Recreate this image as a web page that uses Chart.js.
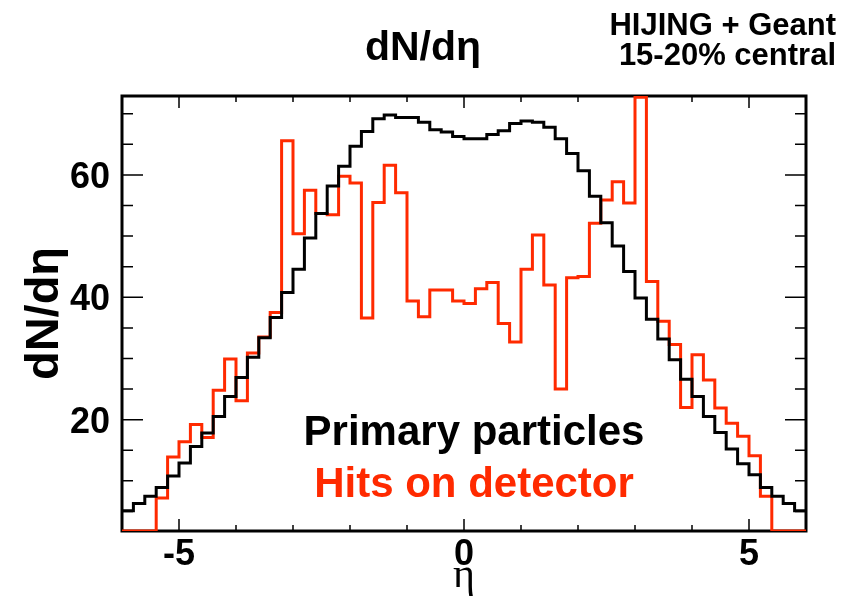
<!DOCTYPE html>
<html>
<head>
<meta charset="utf-8">
<script src="https://cdn.jsdelivr.net/npm/chart.js@4/dist/chart.umd.min.js"></script>
<style>
  html, body { margin: 0; padding: 0; background: #fff; }
  #wrap { width: 854px; height: 597px; position: relative; }
</style>
</head>
<body>
<div id="wrap"><canvas id="dndeta"></canvas></div>
<script>
// eta binning: 60 bins of 0.2 from -6 to 6
const etaMin = -6;
const binWidth = 0.2;

// dN/deta of primary particles (black)
const primary = [
  5.1, 6.3, 7.5, 8.9, 10.8, 12.9, 15.6, 17.8, 20.5, 23.8,
  26.9, 30.2, 33.4, 36.7, 40.8, 44.6, 49.7, 53.7, 58.2, 61.4,
  64.7, 67.1, 69.2, 69.8, 69.4, 69.4, 68.6, 67.4, 67.0, 66.3,
  65.9, 65.9, 66.6, 67.2, 68.4, 68.8, 68.6, 67.8, 65.9, 63.5,
  60.7, 56.5, 52.2, 48.4, 44.2, 39.9, 36.4, 33.2, 29.8, 26.6,
  23.8, 20.5, 17.9, 15.2, 12.8, 11.0, 8.9, 7.5, 6.3, 5.1
];

// hits on detector (red)
const hits = [
  0, 0, 0, 7.2, 13.9, 16.4, 19.2, 17.1, 24.8, 29.9,
  23.1, 30.9, 33.5, 37.5, 65.6, 50.4, 57.5, 53.7, 53.5, 59.8,
  58.7, 36.6, 55.5, 61.6, 57.1, 39.4, 36.8, 41.2, 41.2, 39.4,
  39.0, 41.4, 42.4, 35.7, 32.7, 44.6, 50.2, 42.0, 25.0, 43.2,
  43.4, 52.1, 55.9, 58.9, 55.4, 72.7, 42.6, 36.1, 32.3, 22.0,
  30.6, 26.5, 21.9, 19.4, 17.3, 14.1, 7.5, 0, 0, 0
];

const xTickLabels = [-5, 0, 5];
const yTickLabels = [20, 40, 60];
const yMin = 1.8, yMax = 72.9;

const RED = '#ff2a00';
const SANS = '"Liberation Sans", Arial, Helvetica, sans-serif';

// histogram outline: one point at each bin's low edge, plus the last edge
function histPoints(vals) {
  const pts = vals.map((v, i) => ({ x: etaMin + i * binWidth, y: Math.max(v, yMin) }));
  pts.push({ x: etaMin + vals.length * binWidth, y: Math.max(vals[vals.length - 1], yMin) });
  return pts;
}

// ROOT style frame with inward ticks, drawn under the histograms
const rootFrame = {
  id: 'rootFrame',
  beforeDatasetsDraw(chart) {
    const { ctx, chartArea: a, scales: { x, y } } = chart;
    ctx.save();
    ctx.strokeStyle = '#000';
    ctx.lineWidth = 1.5;
    ctx.beginPath();
    for (let v = -6; v <= 6; v++) {
      const px = x.getPixelForValue(v);
      const len = v % 5 === 0 ? 12 : 6;
      ctx.moveTo(px, a.bottom); ctx.lineTo(px, a.bottom - len);
      ctx.moveTo(px, a.top); ctx.lineTo(px, a.top + len);
    }
    for (let v = 5; v <= 70; v += 5) {
      const py = y.getPixelForValue(v);
      const len = v % 20 === 0 ? 21 : 11;
      ctx.moveTo(a.left, py); ctx.lineTo(a.left + len, py);
      ctx.moveTo(a.right, py); ctx.lineTo(a.right - len, py);
    }
    ctx.stroke();
    ctx.lineWidth = 3;
    ctx.strokeRect(a.left, a.top, a.right - a.left, a.bottom - a.top);
    ctx.restore();
  },
  afterDatasetsDraw(chart) {
    const { ctx } = chart;
    ctx.save();
    ctx.fillStyle = '#000';
    ctx.textBaseline = 'alphabetic';
    ctx.textAlign = 'center';
    ctx.font = 'bold 41px ' + SANS;
    ctx.fillText('dN/dη', 423, 60);
    ctx.textAlign = 'right';
    ctx.font = 'bold 31px ' + SANS;
    ctx.fillText('HIJING + Geant', 836, 35);
    ctx.fillText('15-20% central', 836, 65);
    ctx.textAlign = 'center';
    ctx.font = 'bold 42px ' + SANS;
    ctx.fillText('Primary particles', 474, 445);
    ctx.fillStyle = RED;
    ctx.fillText('Hits on detector', 474, 497);
    ctx.restore();
  }
};

new Chart(document.getElementById('dndeta'), {
  type: 'line',
  data: {
    datasets: [
      {
        label: 'Primary particles',
        data: histPoints(primary),
        borderColor: '#000',
        borderWidth: 3,
        stepped: 'before',
        pointRadius: 0,
        fill: false
      },
      {
        label: 'Hits on detector',
        data: histPoints(hits),
        borderColor: RED,
        borderWidth: 3,
        stepped: 'before',
        pointRadius: 0,
        fill: false
      }
    ]
  },
  options: {
    responsive: true,
    maintainAspectRatio: false,
    animation: false,
    layout: { padding: { top: 96, right: 48, left: 0, bottom: 0 } },
    plugins: {
      legend: { display: false },
      tooltip: { enabled: false }
    },
    scales: {
      x: {
        type: 'linear',
        min: -6,
        max: 6,
        grid: { display: false, drawTicks: false },
        border: { display: false },
        afterBuildTicks: s => { s.ticks = xTickLabels.map(v => ({ value: v })); },
        afterFit: s => { s.height = 66; },
        ticks: {
          color: '#000',
          padding: 2,
          maxRotation: 0,
          font: { family: SANS, size: 36, weight: 'bold' }
        },
        title: {
          display: true,
          text: 'η',
          color: '#000',
          padding: { top: 0, bottom: 0 },
          font: { family: '"Liberation Serif", "DejaVu Serif", serif', size: 42, weight: 'normal', lineHeight: 1.0 }
        }
      },
      y: {
        min: yMin,
        max: yMax,
        grid: { display: false, drawTicks: false },
        border: { display: false },
        afterBuildTicks: s => { s.ticks = yTickLabels.map(v => ({ value: v })); },
        afterFit: s => { s.width = 122; },
        ticks: {
          color: '#000',
          padding: 12,
          labelOffset: 3,
          font: { family: SANS, size: 36, weight: 'bold' }
        },
        title: {
          display: true,
          text: 'dN/dη',
          color: '#000',
          padding: { top: 17, bottom: 0 },
          font: { family: SANS, size: 47, weight: 'bold' }
        }
      }
    }
  },
  plugins: [rootFrame]
});
</script>
</body>
</html>
